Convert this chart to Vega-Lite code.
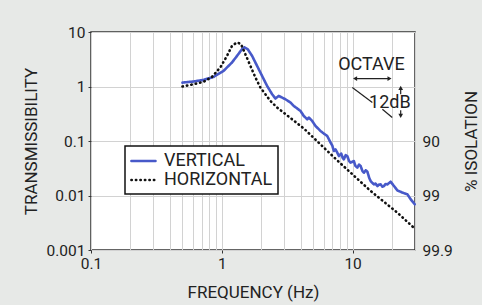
{
  "$schema": "https://vega.github.io/schema/vega-lite/v6.json",
  "width": 324,
  "height": 218,
  "autosize": {"type": "none"},
  "padding": {"left": 91, "top": 32, "right": 67, "bottom": 55},
  "background": "#e7e9e7",
  "config": {
    "view": {"fill": "white", "stroke": "#333333", "strokeWidth": 1.5},
    "font": "Roboto",
    "axis": {
      "labelFont": "Roboto",
      "titleFont": "Roboto",
      "labelFontSize": 15.5,
      "titleFontSize": 17,
      "titleFontWeight": "normal",
      "labelColor": "#222222",
      "titleColor": "#222222",
      "domain": false,
      "tickColor": "#333333",
      "gridColor": "#d2d2d2",
      "gridWidth": 1,
      "labelFlush": false,
      "labelOverlap": false
    },
    "text": {"font": "Roboto"}
  },
  "datasets": {
    "curves": [
      {"f": 0.50, "t": 1.18, "s": "VERTICAL"},
      {"f": 0.608, "t": 1.236, "s": "VERTICAL"},
      {"f": 0.725, "t": 1.322, "s": "VERTICAL"},
      {"f": 0.865, "t": 1.50, "s": "VERTICAL"},
      {"f": 1.032, "t": 1.936, "s": "VERTICAL"},
      {"f": 1.197, "t": 2.76, "s": "VERTICAL"},
      {"f": 1.308, "t": 3.65, "s": "VERTICAL"},
      {"f": 1.428, "t": 4.85, "s": "VERTICAL"},
      {"f": 1.487, "t": 5.21, "s": "VERTICAL"},
      {"f": 1.577, "t": 4.85, "s": "VERTICAL"},
      {"f": 1.704, "t": 3.65, "s": "VERTICAL"},
      {"f": 1.861, "t": 2.39, "s": "VERTICAL"},
      {"f": 2.032, "t": 1.566, "s": "VERTICAL"},
      {"f": 2.22, "t": 1.026, "s": "VERTICAL"},
      {"f": 2.425, "t": 0.722, "s": "VERTICAL"},
      {"f": 2.57, "t": 0.602, "s": "VERTICAL"},
      {"f": 2.724, "t": 0.672, "s": "VERTICAL"},
      {"f": 3.066, "t": 0.584, "s": "VERTICAL"},
      {"f": 3.349, "t": 0.508, "s": "VERTICAL"},
      {"f": 3.55, "t": 0.44, "s": "VERTICAL"},
      {"f": 3.996, "t": 0.356, "s": "VERTICAL"},
      {"f": 4.235, "t": 0.288, "s": "VERTICAL"},
      {"f": 4.497, "t": 0.2505, "s": "VERTICAL"},
      {"f": 4.626, "t": 0.2692, "s": "VERTICAL"},
      {"f": 4.911, "t": 0.2332, "s": "VERTICAL"},
      {"f": 5.206, "t": 0.1887, "s": "VERTICAL"},
      {"f": 5.686, "t": 0.1527, "s": "VERTICAL"},
      {"f": 6.027, "t": 0.1368, "s": "VERTICAL"},
      {"f": 6.4, "t": 0.1236, "s": "VERTICAL"},
      {"f": 6.784, "t": 0.0935, "s": "VERTICAL"},
      {"f": 7.0, "t": 0.082, "s": "VERTICAL"},
      {"f": 7.191, "t": 0.0655, "s": "VERTICAL"},
      {"f": 7.4, "t": 0.070, "s": "VERTICAL"},
      {"f": 7.635, "t": 0.0612, "s": "VERTICAL"},
      {"f": 7.852, "t": 0.053, "s": "VERTICAL"},
      {"f": 8.192, "t": 0.0587, "s": "VERTICAL"},
      {"f": 8.4, "t": 0.049, "s": "VERTICAL"},
      {"f": 8.577, "t": 0.0461, "s": "VERTICAL"},
      {"f": 8.85, "t": 0.055, "s": "VERTICAL"},
      {"f": 9.107, "t": 0.053, "s": "VERTICAL"},
      {"f": 9.4, "t": 0.043, "s": "VERTICAL"},
      {"f": 9.654, "t": 0.0401, "s": "VERTICAL"},
      {"f": 10.23, "t": 0.0429, "s": "VERTICAL"},
      {"f": 10.5, "t": 0.035, "s": "VERTICAL"},
      {"f": 10.86, "t": 0.0324, "s": "VERTICAL"},
      {"f": 11.2, "t": 0.037, "s": "VERTICAL"},
      {"f": 11.52, "t": 0.0347, "s": "VERTICAL"},
      {"f": 11.9, "t": 0.028, "s": "VERTICAL"},
      {"f": 12.21, "t": 0.0262, "s": "VERTICAL"},
      {"f": 12.6, "t": 0.029, "s": "VERTICAL"},
      {"f": 12.97, "t": 0.0274, "s": "VERTICAL"},
      {"f": 13.4, "t": 0.021, "s": "VERTICAL"},
      {"f": 13.74, "t": 0.0184, "s": "VERTICAL"},
      {"f": 14.1, "t": 0.0172, "s": "VERTICAL"},
      {"f": 14.56, "t": 0.016, "s": "VERTICAL"},
      {"f": 15.0, "t": 0.0165, "s": "VERTICAL"},
      {"f": 15.47, "t": 0.0149, "s": "VERTICAL"},
      {"f": 15.9, "t": 0.0158, "s": "VERTICAL"},
      {"f": 16.39, "t": 0.016, "s": "VERTICAL"},
      {"f": 16.9, "t": 0.0145, "s": "VERTICAL"},
      {"f": 17.37, "t": 0.0149, "s": "VERTICAL"},
      {"f": 17.9, "t": 0.0163, "s": "VERTICAL"},
      {"f": 18.45, "t": 0.016, "s": "VERTICAL"},
      {"f": 19.55, "t": 0.0179, "s": "VERTICAL"},
      {"f": 20.73, "t": 0.0149, "s": "VERTICAL"},
      {"f": 22.01, "t": 0.0124, "s": "VERTICAL"},
      {"f": 24.03, "t": 0.0113, "s": "VERTICAL"},
      {"f": 26.26, "t": 0.0105, "s": "VERTICAL"},
      {"f": 27.83, "t": 0.0085, "s": "VERTICAL"},
      {"f": 29.87, "t": 0.0069, "s": "VERTICAL"},
      {"f": 0.50, "t": 1.0, "s": "HORIZONTAL"},
      {"f": 0.608, "t": 1.10, "s": "HORIZONTAL"},
      {"f": 0.725, "t": 1.215, "s": "HORIZONTAL"},
      {"f": 0.841, "t": 1.50, "s": "HORIZONTAL"},
      {"f": 0.974, "t": 2.236, "s": "HORIZONTAL"},
      {"f": 1.096, "t": 3.65, "s": "HORIZONTAL"},
      {"f": 1.197, "t": 5.58, "s": "HORIZONTAL"},
      {"f": 1.308, "t": 6.44, "s": "HORIZONTAL"},
      {"f": 1.403, "t": 6.0, "s": "HORIZONTAL"},
      {"f": 1.513, "t": 3.93, "s": "HORIZONTAL"},
      {"f": 1.654, "t": 2.39, "s": "HORIZONTAL"},
      {"f": 1.806, "t": 1.464, "s": "HORIZONTAL"},
      {"f": 1.972, "t": 0.958, "s": "HORIZONTAL"},
      {"f": 2.154, "t": 0.722, "s": "HORIZONTAL"},
      {"f": 2.353, "t": 0.5435, "s": "HORIZONTAL"},
      {"f": 2.648, "t": 0.411, "s": "HORIZONTAL"},
      {"f": 4.235, "t": 0.17, "s": "HORIZONTAL"},
      {"f": 7.635, "t": 0.044, "s": "HORIZONTAL"},
      {"f": 13.74, "t": 0.0121, "s": "HORIZONTAL"},
      {"f": 22.01, "t": 0.00483, "s": "HORIZONTAL"},
      {"f": 30, "t": 0.00245, "s": "HORIZONTAL"}
    ],
    "labels": [
      {"f": 13.93, "t": 2.45, "label": "OCTAVE"},
      {"f": 19.28, "t": 0.508, "label": "12dB"}
    ],
    "segments": [
      {"f": 10.45, "t": 1.40, "f2": 19.15, "t2": 1.40},
      {"f": 9.95, "t": 0.958, "f2": 14.16, "t2": 0.508},
      {"f": 16.89, "t": 0.383, "f2": 20.1, "t2": 0.269},
      {"f": 23.32, "t": 0.943, "f2": 23.32, "t2": 0.722},
      {"f": 23.32, "t": 0.3667, "f2": 23.32, "t2": 0.289}
    ],
    "heads": [
      {"f": 10.45, "t": 1.40, "shape": "triangle-left"},
      {"f": 19.15, "t": 1.40, "shape": "triangle-right"},
      {"f": 23.32, "t": 0.943, "shape": "triangle-up"},
      {"f": 23.32, "t": 0.289, "shape": "triangle-down"}
    ]
  },
  "layer": [
    {
      "data": {"name": "curves"},
      "mark": {"type": "line", "strokeWidth": 2.6, "strokeCap": "round", "strokeJoin": "round"},
      "encoding": {
        "x": {
          "field": "f", "type": "quantitative",
          "scale": {"type": "log", "domain": [0.1, 30], "nice": false},
          "axis": {
            "title": "FREQUENCY (Hz)",
            "values": [0.1, 0.2, 0.3, 0.4, 0.5, 0.6, 0.7, 0.8, 0.9, 1, 2, 3, 4, 5, 6, 7, 8, 9, 10, 20, 30],
            "labelExpr": "indexof([0.1, 1, 10], datum.value) >= 0 ? format(datum.value, '~g') : ''",
            "tickOpacity": {"condition": {"test": "indexof([0.1, 1, 10], datum.value) >= 0", "value": 1}, "value": 0},
            "tickSize": 3,
            "labelPadding": 3,
            "titlePadding": 13,
            "grid": true
          }
        },
        "y": {
          "field": "t", "type": "quantitative",
          "scale": {"type": "log", "domain": [0.001, 10], "nice": false},
          "axis": {
            "title": "TRANSMISSIBILITY",
            "values": [0.001, 0.01, 0.1, 1, 10],
            "format": "~g",
            "tickSize": 3,
            "labelPadding": 3,
            "titlePadding": 6,
            "grid": true
          }
        },
        "color": {
          "field": "s", "type": "nominal",
          "scale": {"domain": ["VERTICAL", "HORIZONTAL"], "range": ["#4759c9", "#111111"]},
          "legend": {
            "orient": "none", "legendX": 34, "legendY": 114,
            "title": null,
            "strokeColor": "#111111", "fillColor": "white",
            "padding": 5,
            "labelFont": "Roboto", "labelFontSize": 18, "labelColor": "#222222",
            "labelExpr": "datum.label + '  '",
            "symbolType": "M-1,0L1.8,0", "symbolSize": 300, "symbolStrokeWidth": 2.4,
            "labelOffset": 14, "rowPadding": 0,
            "encode": {
              "legend": {"update": {"strokeWidth": {"value": 1.5}}},
              "symbols": {"update": {"strokeCap": {"value": "round"}}}
            }
          }
        },
        "strokeDash": {
          "field": "s", "type": "nominal",
          "scale": {"domain": ["VERTICAL", "HORIZONTAL"], "range": [[1, 0], [0.5, 4]]},
          "legend": {
            "orient": "none", "legendX": 34, "legendY": 114,
            "title": null,
            "strokeColor": "#111111", "fillColor": "white",
            "padding": 5,
            "labelFont": "Roboto", "labelFontSize": 18, "labelColor": "#222222",
            "labelExpr": "datum.label + '  '",
            "symbolType": "M-1,0L1.8,0", "symbolSize": 300, "symbolStrokeWidth": 2.4,
            "labelOffset": 14, "rowPadding": 0,
            "encode": {
              "legend": {"update": {"strokeWidth": {"value": 1.5}}},
              "symbols": {"update": {"strokeCap": {"value": "round"}}}
            }
          }
        }
      }
    },
    {
      "data": {"name": "curves"},
      "mark": {"type": "point", "opacity": 0},
      "encoding": {
        "x": {"field": "f", "type": "quantitative", "scale": {"type": "log", "domain": [0.1, 30], "nice": false}},
        "y": {
          "field": "t", "type": "quantitative",
          "scale": {"type": "log", "domain": [0.001, 10], "nice": false},
          "axis": {
            "orient": "right",
            "title": "% ISOLATION",
            "titleAngle": 270,
            "values": [0.001, 0.01, 0.1],
            "labelExpr": "datum.value < 0.005 ? '99.9' : (datum.value < 0.05 ? '99' : '90')",
            "ticks": false,
            "labelPadding": 7,
            "titlePadding": 28,
            "grid": false
          }
        }
      }
    },
    {
      "data": {"name": "segments"},
      "mark": {"type": "rule", "stroke": "#222222", "strokeWidth": 1.2},
      "encoding": {
        "x": {"field": "f", "type": "quantitative"},
        "y": {"field": "t", "type": "quantitative", "axis": null},
        "x2": {"field": "f2"},
        "y2": {"field": "t2"}
      }
    },
    {
      "data": {"name": "heads"},
      "mark": {"type": "point", "filled": true, "color": "#222222", "size": 22, "opacity": 1},
      "encoding": {
        "x": {"field": "f", "type": "quantitative"},
        "y": {"field": "t", "type": "quantitative", "axis": null},
        "shape": {"field": "shape", "type": "nominal", "scale": null}
      }
    },
    {
      "data": {"name": "labels"},
      "mark": {"type": "text", "fontSize": 18, "align": "center", "baseline": "middle", "color": "#222222", "font": "Roboto"},
      "encoding": {
        "x": {"field": "f", "type": "quantitative"},
        "y": {"field": "t", "type": "quantitative", "axis": null},
        "text": {"field": "label"}
      }
    }
  ],
  "resolve": {"axis": {"y": "independent"}}
}
